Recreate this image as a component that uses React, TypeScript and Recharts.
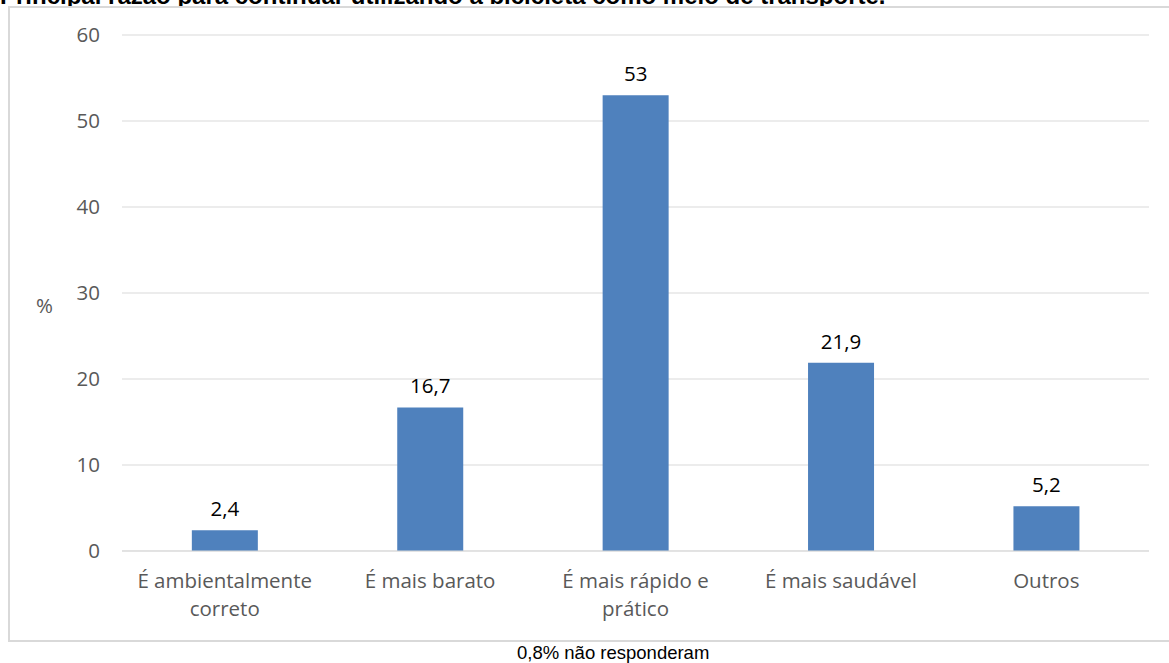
import { BarChart, Bar, XAxis, YAxis, CartesianGrid, LabelList } from "recharts";

const categories = [
  "É ambientalmente\ncorreto",
  "É mais barato",
  "É mais rápido e\nprático",
  "É mais saudável",
  "Outros",
];
const percentages = [2.4, 16.7, 53, 21.9, 5.2];
const yTicks = [0, 10, 20, 30, 40, 50, 60];

const data = categories.map((name, i) => ({ name, value: percentages[i] }));

const FONT = "'Open Sans', Lato, sans-serif";

function CategoryTick(props: any) {
  const { x, y, payload } = props;
  const lines = String(payload.value).split("\n");
  return (
    <text x={x} y={y} textAnchor="middle" fill="#595959" fontSize={20.5} fontFamily={FONT}>
      {lines.map((line, i) => (
        <tspan key={i} x={x} dy={i === 0 ? 31 : 28}>
          {line}
        </tspan>
      ))}
    </text>
  );
}

export default function App() {
  return (
    <div style={{ position: "fixed", left: 0, top: 0, width: 1169, height: 663, background: "#fff", overflow: "hidden" }}>
      <div
        style={{
          position: "absolute",
          left: 0,
          top: -16,
          lineHeight: "24px",
          fontFamily: "'Liberation Sans', Arial, sans-serif",
          fontWeight: "bold",
          fontSize: 24,
          whiteSpace: "nowrap",
          color: "#000",
        }}
      >
        Principal razão para continuar utilizando a bicicleta como meio de transporte.
      </div>
      <div
        style={{
          position: "absolute",
          left: 8,
          top: 6,
          width: 1166,
          height: 632,
          border: "2px solid #d9d9d9",
          background: "#fff",
        }}
      >
        <div
          style={{
            position: "absolute",
            left: 26,
            top: 283,
            fontFamily: FONT,
            fontSize: 20.5,
            color: "#595959",
          }}
        >
          %
        </div>
        <BarChart
          width={1166}
          height={632}
          data={data}
          margin={{ top: 27, right: 27, bottom: 29, left: 0 }}
          barCategoryGap="34%"
        >
          <CartesianGrid vertical={false} stroke="#d9d9d9" />
          <XAxis
            dataKey="name"
            axisLine={{ stroke: "#d9d9d9" }}
            tickLine={false}
            tickMargin={0}
            height={60}
            interval={0}
            tick={<CategoryTick />}
          />
          <YAxis
            domain={[0, 60]}
            ticks={yTicks}
            axisLine={false}
            tickLine={false}
            tickMargin={16}
            width={112}
            tick={{ fill: "#595959", fontSize: 20.5, fontFamily: FONT }}
          />
          <Bar dataKey="value" fill="#4f81bd" isAnimationActive={false}>
            <LabelList
              dataKey="value"
              position="top"
              offset={14}
              formatter={(v: any) => String(v).replace(".", ",")}
              style={{ fill: "#000", fontSize: 20.5, fontFamily: FONT }}
            />
          </Bar>
        </BarChart>
      </div>
      <div
        style={{
          position: "absolute",
          left: 517,
          top: 642,
          whiteSpace: "nowrap",
          fontFamily: "'Liberation Sans', Arial, sans-serif",
          fontSize: 18.5,
          color: "#000",
        }}
      >
        0,8% não responderam
      </div>
    </div>
  );
}
